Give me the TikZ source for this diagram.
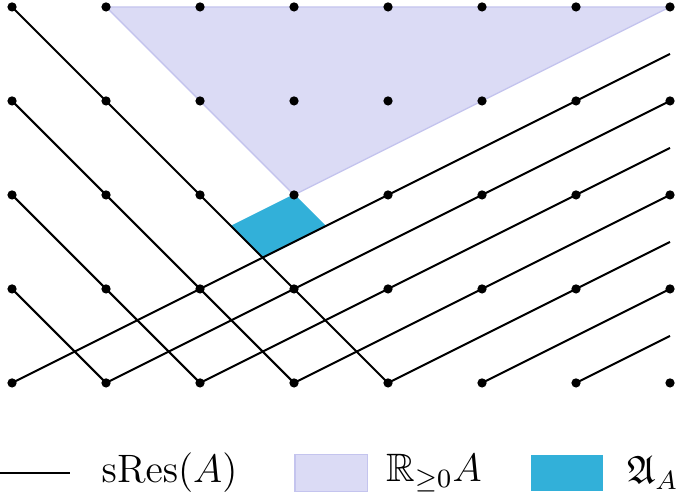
\documentclass[tikz,border=0pt]{standalone}
\usepackage{amsmath,amssymb}
\usetikzlibrary{positioning}
\definecolor{conefill}{RGB}{219,219,245}
\definecolor{conedraw}{RGB}{196,196,238}
\definecolor{cellblue}{RGB}{50,176,217}

\begin{document}
\begin{tikzpicture}[
    dot/.style={circle, fill=black, inner sep=0pt, minimum size=2.8pt},
    sres/.style={black, semithick},
    legtext/.style={font=\fontsize{12}{14}\selectfont, inner sep=0pt},
    legbox/.style={minimum width=0.77cm, minimum height=0.39cm, inner sep=0pt}
  ]
  \useasboundingbox (-0.128,-1.245) rectangle (7.138,4.074);

  % lattice points
  \foreach \i in {0,...,7}
    \foreach \j in {0,...,4}
      \coordinate (p-\i-\j) at (\i,\j);
  \foreach \i in {0,...,6}
    \coordinate (r-\i) at (7,{(7-\i)/2});
  \coordinate (cell-r) at (10/3,5/3);
  \coordinate (cell-b) at (8/3,4/3);
  \coordinate (cell-l) at (7/3,5/3);

  % cone and cell
  \fill[conefill, draw=conedraw, line width=0.4pt] (p-1-4) -- (p-7-4) -- (p-3-2) -- cycle;
  \fill[cellblue, draw=cellblue, line width=0.4pt] (p-3-2) -- (cell-r) -- (cell-b) -- (cell-l) -- cycle;

  % sRes lines
  \foreach \j in {1,...,4}
    \draw[sres] (p-0-\j) -- (p-\j-0);
  \foreach \i in {0,...,6}
    \draw[sres] (p-\i-0) -- (r-\i);

  \foreach \i in {0,...,7}
    \foreach \j in {0,...,4}
      \node[dot] (d-\i-\j) at (p-\i-\j) {};

  % legend
  \coordinate (leg-a) at (-0.128,-0.957);
  \coordinate (leg-b) at (0.617,-0.957);
  \draw[sres] (leg-a) -- (leg-b);
  \node[legtext, right=0.33 of leg-b] (leg-sres) {$\operatorname{sRes}(A)$};
  \node[legbox, fill=conefill, draw=conedraw, line width=0.4pt] (box-cone) at (3.395,-0.957) {};
  \node[legtext, right=0.19 of box-cone] (leg-cone) {$\mathbb{R}_{\geq 0}A$};
  \node[legbox, fill=cellblue] (box-cell) at (5.905,-0.957) {};
  \node[legtext, right=0.24 of box-cell] (leg-cell) {$\mathfrak{A}_A$};
\end{tikzpicture}
\end{document}
